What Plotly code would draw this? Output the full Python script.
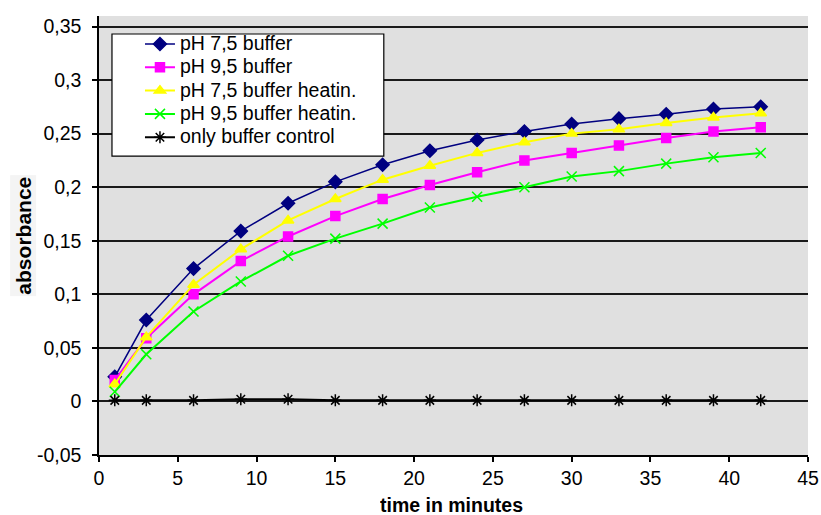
import plotly.graph_objects as go

time_min = [1, 3, 6, 9, 12, 15, 18, 21, 24, 27, 30, 33, 36, 39, 42]
ph75_buffer = [0.023, 0.076, 0.124, 0.159, 0.185, 0.205, 0.221, 0.234, 0.244, 0.252, 0.259, 0.264, 0.268, 0.273, 0.275]
ph95_buffer = [0.020, 0.059, 0.100, 0.131, 0.154, 0.173, 0.189, 0.202, 0.214, 0.225, 0.232, 0.239, 0.246, 0.252, 0.256]
ph75_heat = [0.016, 0.060, 0.109, 0.142, 0.169, 0.189, 0.207, 0.220, 0.232, 0.242, 0.250, 0.254, 0.260, 0.265, 0.269]
ph95_heat = [0.009, 0.044, 0.084, 0.112, 0.136, 0.152, 0.166, 0.181, 0.191, 0.200, 0.210, 0.215, 0.222, 0.228, 0.232]
control = [0.001, 0.001, 0.001, 0.002, 0.002, 0.001, 0.001, 0.001, 0.001, 0.001, 0.001, 0.001, 0.001, 0.001, 0.001]

series_names = ["pH 7,5 buffer", "pH 9,5 buffer", "pH 7,5 buffer heatin.",
                "pH 9,5 buffer heatin.", "only buffer control"]
y_tickvals = [-0.05, 0, 0.05, 0.1, 0.15, 0.2, 0.25, 0.3, 0.35]
y_ticktext = ["-0,05", "0", "0,05", "0,1", "0,15", "0,2", "0,25", "0,3", "0,35"]
x_tickvals = [0, 5, 10, 15, 20, 25, 30, 35, 40, 45]

styles = [
    dict(color="#000080", symbol="diamond", size=10, width=1.5),
    dict(color="#FF00FF", symbol="square", size=9, width=2),
    dict(color="#FFFF00", symbol="triangle-up", size=10, width=2),
    dict(color="#00FF00", symbol="x-thin-open", size=10, width=2),
    dict(color="#000000", symbol="asterisk-open", size=10, width=2),
]
data = [ph75_buffer, ph95_buffer, ph75_heat, ph95_heat, control]

fig = go.Figure()
for name, ys, st in zip(series_names, data, styles):
    fig.add_trace(go.Scatter(
        x=time_min, y=ys, mode="lines+markers",
        name='<span style="font-size:19.5px">' + name + '</span>',
        line=dict(color=st["color"], width=st["width"]),
        marker=dict(symbol=st["symbol"], size=st["size"], color=st["color"],
                    line=dict(color=st["color"], width=1.5)),
    ))

font = "Liberation Sans, Arial, sans-serif"
fig.update_layout(
    width=821, height=515,
    margin=dict(l=99, r=12.5, t=16, b=60, autoexpand=False),
    paper_bgcolor="white", plot_bgcolor="#E0E0E0",
    font=dict(family=font, size=19.5, color="black"),
    legend=dict(x=0.0197, y=0.974, xanchor="left", yanchor="top",
                bgcolor="rgba(0,0,0,0)", borderwidth=0,
                font=dict(size=15.6), tracegroupgap=0, indentation=27),
    showlegend=True,
    shapes=[
        dict(type="rect", xref="paper", yref="paper",
             x0=0.0183, x1=0.4017, y0=0.681, y1=0.959,
             fillcolor="white", line=dict(color="black", width=1.2),
             layer="above"),
    ],
    annotations=[
        dict(text="<b>absorbance</b>", xref="paper", yref="paper",
             x=-0.107, y=0.5, xanchor="center", yanchor="middle",
             textangle=-90, showarrow=False, bgcolor="#F4F4F4",
             font=dict(size=21)),
        dict(text="<b>time in minutes</b>", xref="paper", yref="paper",
             x=0.497, y=-0.1139, xanchor="center", yanchor="middle",
             height=20, borderpad=0,
             showarrow=False, font=dict(size=19.5)),
    ],
)
fig.update_xaxes(
    range=[0, 45], tickvals=x_tickvals, ticks="outside", ticklen=5,
    tickcolor="black", tickwidth=1.5, showline=True, linecolor="black", linewidth=1.5,
    showgrid=False, zeroline=False, automargin=False, ticklabelstandoff=0,
)
fig.update_yaxes(
    range=[-0.05, 0.3598], tickvals=y_tickvals, ticktext=y_ticktext,
    ticks="outside", ticklen=5, tickcolor="black", tickwidth=1.5,
    showline=True, linecolor="black", linewidth=1.5, automargin=False,
    showgrid=True, gridcolor="#1a1a1a", gridwidth=1.6, zeroline=False,
    ticklabelstandoff=7,
)
fig.write_html("out.html")
